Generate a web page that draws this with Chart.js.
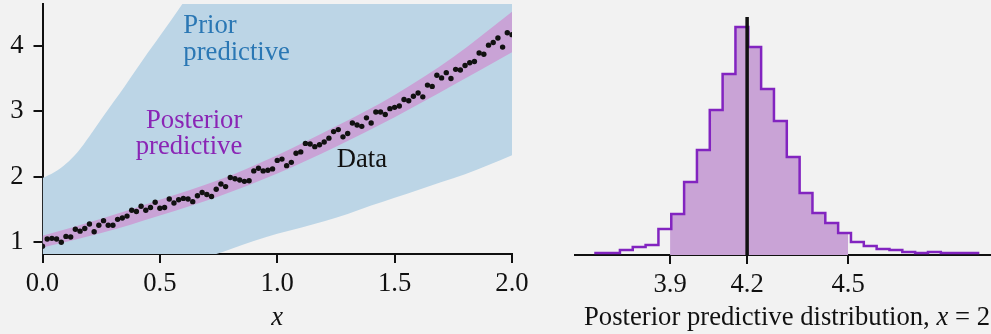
<!DOCTYPE html>
<html>
<head>
<meta charset="utf-8">
<script src="https://cdn.jsdelivr.net/npm/chart.js@4.4.1/dist/chart.umd.min.js"></script>
<style>
  html, body { margin: 0; padding: 0; background: #f2f2f2; }
  #wrap { position: relative; width: 991px; height: 334px; overflow: hidden; }
  canvas { position: absolute; top: 0; }
  #fitChart { left: 0; }
  #histChart { left: 530px; }
</style>
</head>
<body>
<div id="wrap">
  <canvas id="fitChart" width="530" height="334"></canvas>
  <canvas id="histChart" width="461" height="334"></canvas>
</div>
<script>
// Prior vs posterior predictive, plus the posterior predictive histogram at x = 2.

const COLORS = {
  ink: "#111111",
  prior: "#bcd5e6",
  priorText: "#2a77b4",
  post: "#c9a3d6",
  postText: "#8a25b5",
  postLine: "#8224c0",
};
const FONT = "'Liberation Serif', 'Times New Roman', serif";
const FS = 26.67; // 20pt

// ---- left panel ----
const dataX = [
  0, 0.02, 0.04, 0.06, 0.08, 0.1, 0.12, 0.14, 0.16, 0.18,
  0.2, 0.22, 0.24, 0.26, 0.28, 0.3, 0.32, 0.34, 0.36, 0.38,
  0.4, 0.42, 0.44, 0.46, 0.48, 0.5, 0.52, 0.54, 0.56, 0.58,
  0.6, 0.62, 0.64, 0.66, 0.68, 0.7, 0.72, 0.74, 0.76, 0.78,
  0.8, 0.82, 0.84, 0.86, 0.88, 0.9, 0.92, 0.94, 0.96, 0.98,
  1.0, 1.02, 1.04, 1.06, 1.08, 1.1, 1.12, 1.14, 1.16, 1.18,
  1.2, 1.22, 1.24, 1.26, 1.28, 1.3, 1.32, 1.34, 1.36, 1.38,
  1.4, 1.42, 1.44, 1.46, 1.48, 1.5, 1.52, 1.54, 1.56, 1.58,
  1.6, 1.62, 1.64, 1.66, 1.68, 1.7, 1.72, 1.74, 1.76, 1.78,
  1.8, 1.82, 1.84, 1.86, 1.88, 1.9, 1.92, 1.94, 1.96, 1.98,
  2.0,
];
const dataY = [
  0.94, 1.05, 1.06, 1.05, 1.00, 1.09, 1.08, 1.20, 1.17, 1.21,
  1.28, 1.16, 1.26, 1.33, 1.26, 1.26, 1.35, 1.37, 1.40, 1.49,
  1.47, 1.55, 1.49, 1.53, 1.61, 1.52, 1.53, 1.66, 1.60, 1.65,
  1.67, 1.66, 1.62, 1.71, 1.76, 1.73, 1.70, 1.81, 1.89, 1.85,
  1.99, 1.97, 1.95, 1.93, 1.94, 2.09, 2.13, 2.09, 2.10, 2.12,
  2.25, 2.27, 2.17, 2.22, 2.36, 2.38, 2.51, 2.50, 2.46, 2.49,
  2.53, 2.59, 2.69, 2.72, 2.61, 2.66, 2.82, 2.79, 2.77, 2.90,
  2.82, 2.99, 2.99, 2.95, 3.04, 3.06, 3.08, 3.18, 3.16, 3.23,
  3.28, 3.22, 3.40, 3.38, 3.55, 3.51, 3.59, 3.50, 3.64, 3.63,
  3.70, 3.74, 3.76, 3.89, 3.87, 4.01, 4.05, 4.12, 3.98, 4.20,
  4.17,
];

// prior predictive band (goes off the top / bottom of the panel)
const priorX = [0, 0.05, 0.1, 0.15, 0.2, 0.25, 0.3, 0.35, 0.4, 0.45, 0.5, 0.55, 0.6, 0.65, 0.7,
  0.8, 0.9, 1.0, 1.1, 1.2, 1.3, 1.4, 1.5, 1.6, 1.7, 1.8, 1.9, 2.0];
const priorUpper = [1.98, 2.07, 2.20, 2.38, 2.62, 2.88, 3.13, 3.38, 3.64, 3.90, 4.15, 4.40, 4.66, 4.92, 5.18,
  5.7, 6.2, 6.7, 7.2, 7.7, 8.2, 8.7, 9.2, 9.7, 10.2, 10.7, 11.2, 11.7];
const priorLower = [0.25, 0.29, 0.33, 0.37, 0.41, 0.45, 0.49, 0.53, 0.57, 0.61, 0.65, 0.69, 0.73, 0.76, 0.78,
  0.895, 1.02, 1.13, 1.22, 1.32, 1.43, 1.56, 1.68, 1.80, 1.92, 2.04, 2.18, 2.33];

// posterior predictive band
const postX = [0, 0.25, 0.5, 0.75, 1.0, 1.25, 1.5, 1.75, 2.0];
const postUpper = [1.10, 1.36, 1.65, 1.95, 2.33, 2.77, 3.25, 3.83, 4.52];
const postLower = [0.92, 1.14, 1.41, 1.70, 2.05, 2.46, 2.91, 3.40, 3.90];

const fitXTicks = [0, 0.5, 1, 1.5, 2];
const fitYTicks = [1, 2, 3, 4];

// ---- right panel: histogram at x = 2 ----
const binStart = 3.64;
const binWidth = 0.044;
const histCounts = [2, 2, 5, 8, 10, 26, 41, 73, 105, 145, 181, 228, 208, 166, 134,
  98, 62, 42, 32, 22, 13, 9, 6, 5, 3, 2, 3, 2, 2, 2];
const interval = [3.90, 4.51];   // shaded central interval
const centerValue = 4.164;       // vertical line
const histTicks = [3.90, 4.164, 4.51];

Chart.defaults.font.family = FONT;
Chart.defaults.font.size = FS;
Chart.defaults.color = COLORS.ink;

const pts = (xs, ys) => xs.map((x, i) => ({ x, y: ys[i] }));

function axis(extra, tickExtra) {
  return {
    type: "linear",
    border: { display: true, color: COLORS.ink, width: 2 },
    grid: {
      display: true, drawOnChartArea: false, drawTicks: true,
      tickLength: 9, tickWidth: 2, tickColor: COLORS.ink, color: COLORS.ink, lineWidth: 2,
    },
    ticks: { color: COLORS.ink, font: { size: FS, family: FONT }, maxRotation: 0, autoSkip: false, ...tickExtra },
    ...extra,
  };
}

// texts placed at data coordinates
function notesPlugin(items) {
  return {
    id: "notes",
    afterDatasetsDraw(chart) {
      const { ctx, scales: { x, y } } = chart;
      items.forEach((n) => {
        ctx.save();
        ctx.font = `${FS}px ${FONT}`;
        ctx.fillStyle = n.color;
        ctx.textAlign = n.align;
        ctx.textBaseline = "alphabetic";
        const px = x.getPixelForValue(n.x);
        const py = y.getPixelForValue(n.y);
        n.lines.forEach((t, k) => ctx.fillText(t, px, py + k * n.gap));
        ctx.restore();
      });
    },
  };
}

// axis title with mixed roman / italic parts
function titlePlugin(parts, shift = 0) {
  return {
    id: "xtitle",
    afterDraw(chart) {
      const { ctx } = chart;
      const sx = chart.scales.x;
      const fontOf = (p) => `${p.italic ? "italic " : ""}${FS}px ${FONT}`;
      ctx.save();
      let total = 0;
      parts.forEach((p) => { ctx.font = fontOf(p); total += ctx.measureText(p.text).width; });
      let cx = (sx.left + sx.right) / 2 + shift - total / 2;
      const by = sx.bottom - 9;
      ctx.fillStyle = COLORS.ink;
      ctx.textAlign = "left";
      ctx.textBaseline = "alphabetic";
      parts.forEach((p) => {
        ctx.font = fontOf(p);
        ctx.fillText(p.text, cx, by);
        cx += ctx.measureText(p.text).width;
      });
      ctx.restore();
    },
  };
}

const band = { borderWidth: 0, borderColor: "rgba(0,0,0,0)", pointRadius: 0, cubicInterpolationMode: "monotone" };

new Chart(document.getElementById("fitChart"), {
  type: "line",
  data: {
    datasets: [
      { data: pts(dataX, dataY), showLine: false, pointRadius: 2.7, pointBorderWidth: 0,
        pointBackgroundColor: COLORS.ink, borderColor: COLORS.ink },
      { ...band, data: pts(postX, postUpper), fill: "+1", backgroundColor: COLORS.post },
      { ...band, data: pts(postX, postLower), fill: false },
      { ...band, data: pts(priorX, priorUpper), fill: "+1", backgroundColor: COLORS.prior },
      { ...band, data: pts(priorX, priorLower), fill: false },
    ],
  },
  options: {
    responsive: false,
    animation: false,
    events: [],
    layout: { padding: { top: 4, right: 18, left: 0, bottom: 0 } },
    plugins: { legend: { display: false }, tooltip: { enabled: false } },
    scales: {
      x: axis({
        min: 0, max: 2,
        afterBuildTicks: (s) => { s.ticks = fitXTicks.map((v) => ({ value: v })); },
        afterFit: (s) => { s.height = 80; s.paddingLeft = 0; s.paddingRight = 0; },
      }, { padding: 5, callback: (v) => Number(v).toFixed(1) }),
      y: axis({
        min: 0.821, max: 4.638,
        afterBuildTicks: (s) => { s.ticks = fitYTicks.map((v) => ({ value: v })); },
        afterFit: (s) => { s.width = 42.5; s.paddingTop = 0; s.paddingBottom = 0; },
      }, { padding: 10, callback: (v) => String(v) }),
    },
  },
  plugins: [
    notesPlugin([
      { x: 0.60, y: 4.195, lines: ["Prior", "predictive"], color: COLORS.priorText, align: "left", gap: 27 },
      { x: 0.851, y: 2.74, lines: ["Posterior", "predictive"], color: COLORS.postText, align: "right", gap: 26 },
      { x: 1.253, y: 2.154, lines: ["Data"], color: COLORS.ink, align: "left", gap: 0 },
    ]),
    titlePlugin([{ text: "x", italic: true }]),
  ],
});

// histogram outline and shaded interval, built from the bins
const edges = histCounts.map((_, j) => binStart + j * binWidth);
edges.push(binStart + histCounts.length * binWidth);
const outline = edges.map((x, j) => ({ x, y: histCounts[Math.min(j, histCounts.length - 1)] }));
const binOf = (v) => Math.floor((v - binStart) / binWidth);
const shade = [{ x: interval[0], y: histCounts[binOf(interval[0])] }];
edges.forEach((e, j) => {
  if (e > interval[0] && e < interval[1]) shade.push({ x: e, y: histCounts[j] });
});
shade.push({ x: interval[1], y: histCounts[binOf(interval[1])] });
const histTop = 238;

new Chart(document.getElementById("histChart"), {
  type: "line",
  data: {
    datasets: [
      { data: [{ x: centerValue, y: 0 }, { x: centerValue, y: histTop }], borderColor: COLORS.ink,
        borderWidth: 3.5, pointRadius: 0, fill: false },
      { data: outline, stepped: true, borderColor: COLORS.postLine, borderWidth: 2.5, pointRadius: 0, fill: false },
      { data: shade, stepped: true, borderWidth: 0, borderColor: "rgba(0,0,0,0)", pointRadius: 0,
        fill: "origin", backgroundColor: COLORS.post },
    ],
  },
  options: {
    responsive: false,
    animation: false,
    events: [],
    layout: { padding: { top: 17, right: 0, left: 45, bottom: 0 } },
    plugins: { legend: { display: false }, tooltip: { enabled: false } },
    scales: {
      x: axis({
        min: 3.574, max: 5.0,
        afterBuildTicks: (s) => { s.ticks = histTicks.map((v) => ({ value: v })); },
        afterFit: (s) => { s.height = 79; s.paddingLeft = 0; s.paddingRight = 0; },
      }, { padding: 5, callback: (v) => Number(v).toFixed(1) }),
      y: { type: "linear", display: false, min: 0, max: histTop },
    },
  },
  plugins: [
    titlePlugin([
      { text: "Posterior predictive distribution, ", italic: false },
      { text: "x", italic: true },
      { text: " = 2", italic: false },
    ], 4),
  ],
});
</script>
</body>
</html>
